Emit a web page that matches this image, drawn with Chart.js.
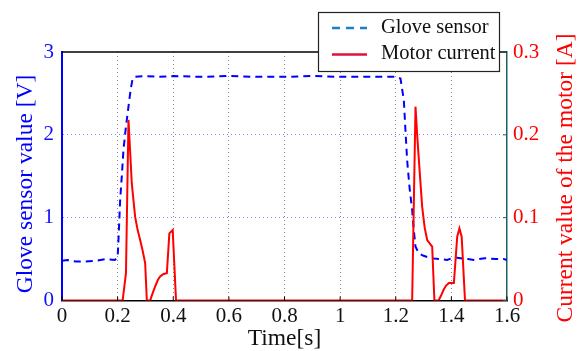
<!DOCTYPE html>
<html>
<head>
<meta charset="utf-8">
<script src="https://cdn.jsdelivr.net/npm/chart.js@4"></script>
<style>
  html, body { margin: 0; padding: 0; background: #fff; }
  #wrap { width: 578px; height: 351px; }
</style>
</head>
<body>
<div id="wrap"><canvas id="gloveChart" width="578" height="351"></canvas></div>
<script>
// glove sensor (left axis, V)
const gloveTime = [0, 0.02, 0.05, 0.08, 0.12, 0.16, 0.19, 0.2, 0.203, 0.209, 0.215, 0.221, 0.23, 0.239, 0.247, 0.254, 0.262, 0.3, 0.35, 0.4, 0.5, 0.6, 0.7, 0.8, 0.9, 1.0, 1.1, 1.2, 1.217, 1.223, 1.229, 1.235, 1.241, 1.25, 1.259, 1.265, 1.271, 1.283, 1.3, 1.325, 1.36, 1.385, 1.41, 1.433, 1.46, 1.48, 1.52, 1.56, 1.588, 1.6];
const gloveValue = [0.48, 0.49, 0.47, 0.47, 0.48, 0.5, 0.49, 0.52, 0.73, 1.21, 1.5, 1.82, 2.1, 2.34, 2.55, 2.68, 2.7, 2.71, 2.7, 2.71, 2.7, 2.71, 2.7, 2.7, 2.71, 2.7, 2.7, 2.7, 2.68, 2.55, 2.42, 2.05, 1.69, 1.35, 1.09, 0.85, 0.65, 0.57, 0.54, 0.51, 0.5, 0.49, 0.52, 0.51, 0.5, 0.49, 0.51, 0.5, 0.5, 0.49];

// motor current (right axis, A)
const motorTime = [0, 0.218, 0.23, 0.239, 0.245, 0.251, 0.263, 0.272, 0.281, 0.29, 0.299, 0.305, 0.317, 0.325, 0.335, 0.345, 0.353, 0.365, 0.377, 0.386, 0.398, 0.41, 1.259, 1.271, 1.277, 1.283, 1.295, 1.304, 1.313, 1.331, 1.339, 1.354, 1.363, 1.372, 1.381, 1.391, 1.409, 1.421, 1.429, 1.437, 1.449, 1.6];
const motorValue = [0, 0, 0.033, 0.218, 0.18, 0.141, 0.101, 0.085, 0.073, 0.06, 0.045, 0, 0, 0.008, 0.017, 0.025, 0.029, 0.032, 0.033, 0.081, 0.085, 0, 0, 0.234, 0.2, 0.17, 0.113, 0.088, 0.073, 0.065, 0, 0, 0.006, 0.013, 0.018, 0.021, 0.021, 0.077, 0.087, 0.077, 0, 0];

const timeTicks = [0, 0.2, 0.4, 0.6, 0.8, 1, 1.2, 1.4, 1.6];
const leftTicks = [0, 1, 2, 3];
const rightTicks = [0, 0.1, 0.2, 0.3];
const legendLabels = ['Glove sensor', 'Motor current'];

const serif = '"Liberation Serif", "Times New Roman", serif';
const fmt = v => String(Number(v.toFixed(2)));

const decor = {
  id: 'decor',
  afterDatasetsDraw(chart) {
    const { ctx, chartArea: a, scales } = chart;
    ctx.save();
    // top frame line
    ctx.strokeStyle = '#000';
    ctx.lineWidth = 1.5;
    ctx.beginPath();
    ctx.moveTo(a.left, a.top);
    ctx.lineTo(a.right, a.top);
    ctx.stroke();
    // inward ticks on bottom
    ctx.lineWidth = 1;
    timeTicks.forEach(t => {
      const x = scales.x.getPixelForValue(t);
      ctx.beginPath();
      ctx.moveTo(x, a.bottom);
      ctx.lineTo(x, a.bottom - 4);
      ctx.stroke();
    });
    // inward ticks on right
    ctx.strokeStyle = '#1f6060';
    rightTicks.forEach(v => {
      const y = scales.y1.getPixelForValue(v);
      ctx.beginPath();
      ctx.moveTo(a.right, y);
      ctx.lineTo(a.right - 4, y);
      ctx.stroke();
    });
    ctx.restore();
  },
  afterDraw(chart) {
    const { ctx, chartArea: a } = chart;
    ctx.save();
    // axis titles
    ctx.font = '23.5px ' + serif;
    ctx.textAlign = 'center';
    ctx.textBaseline = 'middle';
    ctx.fillStyle = '#111';
    ctx.fillText('Time[s]', (a.left + a.right) / 2, 339);
    ctx.fillStyle = '#0000ff';
    ctx.translate(26, 184);
    ctx.rotate(-Math.PI / 2);
    ctx.fillText('Glove sensor value [V]', 0, 0);
    ctx.setTransform(1, 0, 0, 1, 0, 0);
    ctx.fillStyle = '#ff0000';
    ctx.translate(566, 178);
    ctx.rotate(-Math.PI / 2);
    ctx.fillText('Current value of the motor [A]', 0, 0);
    ctx.setTransform(1, 0, 0, 1, 0, 0);

    // legend box
    ctx.fillStyle = '#fff';
    ctx.fillRect(318, 12, 182, 60);
    ctx.strokeStyle = '#222';
    ctx.lineWidth = 1.2;
    ctx.strokeRect(318.5, 12.5, 181, 59);
    ctx.lineWidth = 2.5;
    ctx.strokeStyle = '#1a80c8';
    ctx.setLineDash([8, 6]);
    ctx.beginPath();
    ctx.moveTo(332, 28);
    ctx.lineTo(367, 28);
    ctx.stroke();
    ctx.setLineDash([]);
    ctx.strokeStyle = '#e0103c';
    ctx.beginPath();
    ctx.moveTo(332, 54.5);
    ctx.lineTo(367, 54.5);
    ctx.stroke();
    ctx.fillStyle = '#111';
    ctx.font = '20.5px ' + serif;
    ctx.textAlign = 'left';
    ctx.fillText(legendLabels[0], 381, 28);
    ctx.fillText(legendLabels[1], 381, 54);
    ctx.restore();
  }
};

const ctx = document.getElementById('gloveChart').getContext('2d');
const gloveChart = new Chart(ctx, {
  type: 'line',
  data: {
    datasets: [{
      label: legendLabels[1],
      data: motorTime.map((t, i) => ({ x: t, y: motorValue[i] })),
      yAxisID: 'y1',
      borderColor: '#ff0000',
      borderWidth: 2,
      pointRadius: 0,
      tension: 0,
      order: 0
    }, {
      label: legendLabels[0],
      data: gloveTime.map((t, i) => ({ x: t, y: gloveValue[i] })),
      yAxisID: 'y',
      borderColor: '#0000ff',
      borderWidth: 2,
      borderDash: [7, 5],
      pointRadius: 0,
      tension: 0,
      order: 1
    }]
  },
  options: {
    responsive: false,
    animation: false,
    layout: { padding: { top: 52, left: 0, right: 0, bottom: 0 } },
    plugins: {
      legend: { display: false },
      tooltip: { enabled: false }
    },
    scales: {
      x: {
        type: 'linear',
        min: 0,
        max: 1.6,
        afterBuildTicks: s => { s.ticks = timeTicks.map(v => ({ value: v })); },
        afterFit: s => { s.height = 50.5; },
        ticks: {
          color: '#111',
          font: { family: serif, size: 21 },
          padding: 3,
          maxRotation: 0,
          callback: v => fmt(v)
        },
        grid: {
          drawTicks: false,
          color: c => (c.tick && c.tick.value > 0 && c.tick.value < 1.6) ? '#8a8a8a' : 'rgba(0,0,0,0)',
          lineWidth: 1
        },
        border: { display: true, color: '#000', width: 1.5, dash: [1, 3] }
      },
      y: {
        type: 'linear',
        position: 'left',
        min: 0,
        max: 3,
        afterBuildTicks: s => { s.ticks = leftTicks.map(v => ({ value: v })); },
        afterFit: s => { s.width = 62; },
        ticks: {
          color: '#1010ff',
          font: { family: serif, size: 21 },
          padding: 8,
          callback: v => fmt(v)
        },
        grid: {
          drawTicks: false,
          color: c => (c.tick && c.tick.value > 0 && c.tick.value < 3) ? 'rgba(110,110,255,0.85)' : 'rgba(0,0,0,0)',
          lineWidth: 1
        },
        border: { display: true, color: '#0000ff', width: 2, dash: [1, 3] }
      },
      y1: {
        type: 'linear',
        position: 'right',
        min: 0,
        max: 0.3,
        afterBuildTicks: s => { s.ticks = rightTicks.map(v => ({ value: v })); },
        afterFit: s => { s.width = 71; },
        ticks: {
          color: '#ff0000',
          font: { family: serif, size: 21 },
          padding: 6,
          callback: v => fmt(v)
        },
        grid: { display: false, drawTicks: false },
        border: { display: true, color: '#1f6060', width: 1.5 }
      }
    }
  },
  plugins: [decor]
});
</script>
</body>
</html>
